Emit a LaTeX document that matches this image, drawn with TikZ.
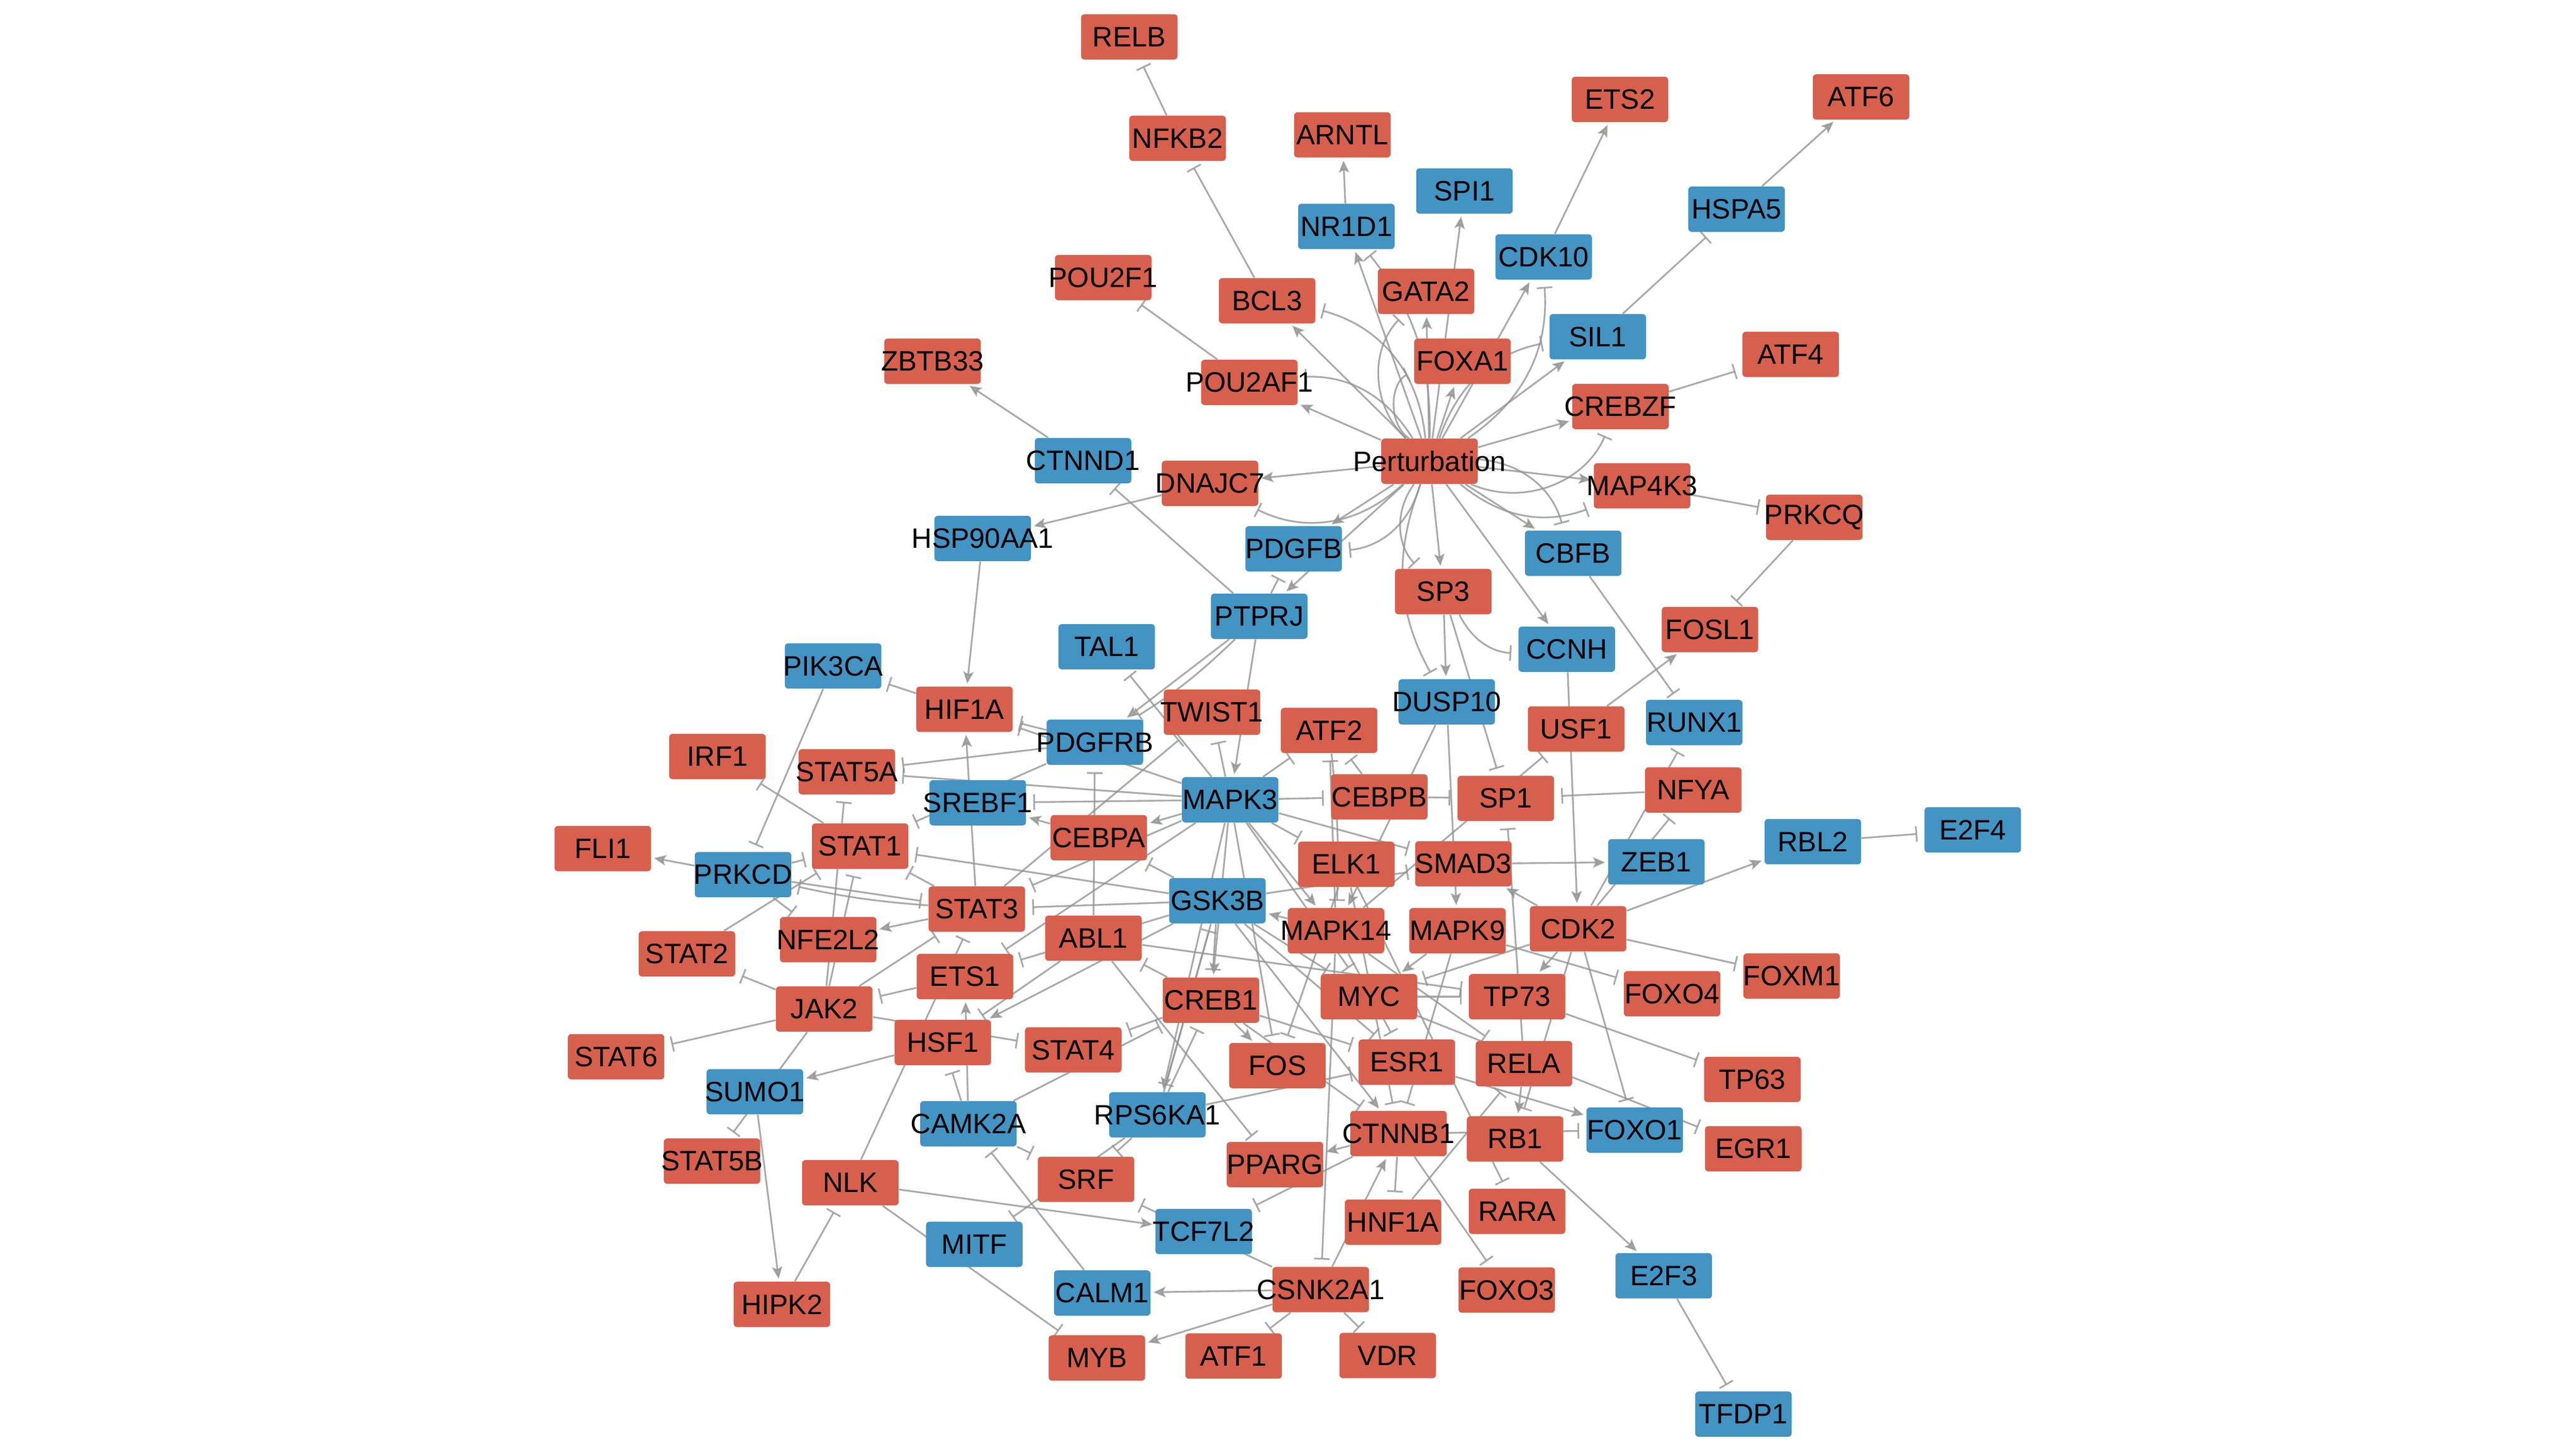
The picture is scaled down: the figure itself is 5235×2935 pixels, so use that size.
\documentclass[tikz,border=0pt]{standalone}
\usepackage{fontspec}
\setmainfont{Liberation Sans}
\usetikzlibrary{arrows.meta}
\definecolor{redc}{HTML}{D6604D}
\definecolor{bluec}{HTML}{4393C3}
\newcommand\genefont{\fontsize{16.2}{18}\selectfont}
\newcommand\gtxt[1]{\makebox[0pt]{#1}}
\pgfdeclarelayer{bgl}
\pgfdeclarelayer{edges}
\pgfsetlayers{bgl,edges,main}
\tikzset{
  gn/.style={rectangle, rounded corners=2pt, minimum width=1.96cm, minimum height=0.92cm, inner sep=0pt, font=\genefont, text=black},
  rd/.style={gn, fill=redc},
  bl/.style={gn, fill=bluec},
  edg/.style={line width=1pt, draw=black!42, opacity=0.8},
  act/.style={edg, -{Stealth[length=7pt,width=6pt,inset=1.5pt]}, shorten >=1.5pt},
  inh/.style={edg, -{Bar[width=9pt]}, shorten >=4pt}
}
\begin{document}
\begin{tikzpicture}[x=0.01cm,y=-0.01cm]
\useasboundingbox (0,0) rectangle (5235,2935);
\begin{pgfonlayer}{bgl}
\fill[white] (0,0) rectangle (5235,2935);
\end{pgfonlayer}
% nodes
\node[rd] (RELB) at (2295,75) {\gtxt{RELB}};
\node[rd] (NFKB2) at (2393,281) {\gtxt{NFKB2}};
\node[rd] (ARNTL) at (2728,274) {\gtxt{ARNTL}};
\node[rd] (ETS2) at (3292,202) {\gtxt{ETS2}};
\node[rd] (ATF6) at (3782,197) {\gtxt{ATF6}};
\node[bl] (SPI1) at (2976,388) {\gtxt{SPI1}};
\node[bl] (NR1D1) at (2736,460) {\gtxt{NR1D1}};
\node[bl] (HSPA5) at (3529,425) {\gtxt{HSPA5}};
\node[bl] (CDK10) at (3137,522) {\gtxt{CDK10}};
\node[rd] (POU2F1) at (2242,564) {\gtxt{POU2F1}};
\node[rd] (BCL3) at (2575,611) {\gtxt{BCL3}};
\node[rd] (GATA2) at (2898,592) {\gtxt{GATA2}};
\node[bl] (SIL1) at (3247,684) {\gtxt{SIL1}};
\node[rd] (ZBTB33) at (1895,734) {\gtxt{ZBTB33}};
\node[rd] (FOXA1) at (2972,734) {\gtxt{FOXA1}};
\node[rd] (ATF4) at (3639,720) {\gtxt{ATF4}};
\node[rd] (POU2AF1) at (2539,777) {\gtxt{POU2AF1}};
\node[rd] (CREBZF) at (3293,826) {\gtxt{CREBZF}};
\node[bl] (CTNND1) at (2201,936) {\gtxt{CTNND1}};
\node[rd] (P) at (2905,937) {\gtxt{Perturbation}};
\node[rd] (DNAJC7) at (2459,982) {\gtxt{DNAJC7}};
\node[rd] (MAP4K3) at (3337,987) {\gtxt{MAP4K3}};
\node[bl] (HSP90AA1) at (1997,1094) {\gtxt{HSP90AA1}};
\node[rd] (PRKCQ) at (3687,1051) {\gtxt{PRKCQ}};
\node[bl] (PDGFB) at (2629,1115) {\gtxt{PDGFB}};
\node[bl] (CBFB) at (3197,1124) {\gtxt{CBFB}};
\node[rd] (SP3) at (2933,1202) {\gtxt{SP3}};
\node[bl] (PTPRJ) at (2559,1252) {\gtxt{PTPRJ}};
\node[rd] (FOSL1) at (3475,1279) {\gtxt{FOSL1}};
\node[bl] (TAL1) at (2249,1314) {\gtxt{TAL1}};
\node[bl] (CCNH) at (3184,1319) {\gtxt{CCNH}};
\node[bl] (PIK3CA) at (1693,1353) {\gtxt{PIK3CA}};
\node[bl] (DUSP10) at (2940,1426) {\gtxt{DUSP10}};
\node[rd] (HIF1A) at (1960,1441) {\gtxt{HIF1A}};
\node[rd] (TWIST1) at (2463,1447) {\gtxt{TWIST1}};
\node[rd] (ATF2) at (2701,1484) {\gtxt{ATF2}};
\node[rd] (USF1) at (3203,1481) {\gtxt{USF1}};
\node[bl] (RUNX1) at (3443,1468) {\gtxt{RUNX1}};
\node[bl] (PDGFRB) at (2225,1508) {\gtxt{PDGFRB}};
\node[rd] (IRF1) at (1458,1537) {\gtxt{IRF1}};
\node[rd] (STAT5A) at (1721,1568) {\gtxt{STAT5A}};
\node[rd] (NFYA) at (3441,1605) {\gtxt{NFYA}};
\node[bl] (MAPK3) at (2500,1625) {\gtxt{MAPK3}};
\node[bl] (SREBF1) at (1987,1631) {\gtxt{SREBF1}};
\node[rd] (CEBPB) at (2803,1619) {\gtxt{CEBPB}};
\node[rd] (SP1) at (3060,1622) {\gtxt{SP1}};
\node[rd] (CEBPA) at (2233,1702) {\gtxt{CEBPA}};
\node[rd] (STAT1) at (1748,1719) {\gtxt{STAT1}};
\node[rd] (FLI1) at (1225,1724) {\gtxt{FLI1}};
\node[bl] (E2F4) at (4009,1686) {\gtxt{E2F4}};
\node[bl] (RBL2) at (3684,1710) {\gtxt{RBL2}};
\node[rd] (ELK1) at (2736,1756) {\gtxt{ELK1}};
\node[rd] (SMAD3) at (2974,1755) {\gtxt{SMAD3}};
\node[bl] (ZEB1) at (3366,1751) {\gtxt{ZEB1}};
\node[bl] (PRKCD) at (1510,1777) {\gtxt{PRKCD}};
\node[rd] (STAT3) at (1985,1847) {\gtxt{STAT3}};
\node[bl] (GSK3B) at (2474,1830) {\gtxt{GSK3B}};
\node[rd] (NFE2L2) at (1683,1909) {\gtxt{NFE2L2}};
\node[rd] (ABL1) at (2222,1906) {\gtxt{ABL1}};
\node[rd] (MAPK14) at (2715,1891) {\gtxt{MAPK14}};
\node[rd] (MAPK9) at (2962,1891) {\gtxt{MAPK9}};
\node[rd] (CDK2) at (3207,1887) {\gtxt{CDK2}};
\node[rd] (STAT2) at (1396,1938) {\gtxt{STAT2}};
\node[rd] (ETS1) at (1961,1984) {\gtxt{ETS1}};
\node[rd] (FOXM1) at (3641,1983) {\gtxt{FOXM1}};
\node[rd] (JAK2) at (1675,2050) {\gtxt{JAK2}};
\node[rd] (CREB1) at (2461,2032) {\gtxt{CREB1}};
\node[rd] (MYC) at (2782,2025) {\gtxt{MYC}};
\node[rd] (TP73) at (3083,2025) {\gtxt{TP73}};
\node[rd] (FOXO4) at (3398,2019) {\gtxt{FOXO4}};
\node[rd] (STAT6) at (1252,2147) {\gtxt{STAT6}};
\node[rd] (HSF1) at (1916,2118) {\gtxt{HSF1}};
\node[rd] (STAT4) at (2181,2133) {\gtxt{STAT4}};
\node[rd] (FOS) at (2596,2165) {\gtxt{FOS}};
\node[rd] (ESR1) at (2859,2158) {\gtxt{ESR1}};
\node[rd] (RELA) at (3097,2161) {\gtxt{RELA}};
\node[rd] (TP63) at (3561,2193) {\gtxt{TP63}};
\node[bl] (SUMO1) at (1534,2218) {\gtxt{SUMO1}};
\node[bl] (CAMK2A) at (1968,2283) {\gtxt{CAMK2A}};
\node[bl] (RPS6KA1) at (2352,2265) {\gtxt{RPS6KA1}};
\node[rd] (CTNNB1) at (2842,2303) {\gtxt{CTNNB1}};
\node[rd] (RB1) at (3079,2314) {\gtxt{RB1}};
\node[bl] (FOXO1) at (3322,2296) {\gtxt{FOXO1}};
\node[rd] (EGR1) at (3563,2334) {\gtxt{EGR1}};
\node[rd] (STAT5B) at (1447,2359) {\gtxt{STAT5B}};
\node[rd] (NLK) at (1728,2403) {\gtxt{NLK}};
\node[rd] (SRF) at (2207,2396) {\gtxt{SRF}};
\node[rd] (PPARG) at (2591,2366) {\gtxt{PPARG}};
\node[bl] (TCF7L2) at (2446,2502) {\gtxt{TCF7L2}};
\node[rd] (HNF1A) at (2831,2483) {\gtxt{HNF1A}};
\node[rd] (RARA) at (3083,2461) {\gtxt{RARA}};
\node[bl] (MITF) at (1980,2528) {\gtxt{MITF}};
\node[bl] (CALM1) at (2240,2627) {\gtxt{CALM1}};
\node[rd] (CSNK2A1) at (2684,2620) {\gtxt{CSNK2A1}};
\node[rd] (FOXO3) at (3062,2621) {\gtxt{FOXO3}};
\node[bl] (E2F3) at (3381,2592) {\gtxt{E2F3}};
\node[rd] (HIPK2) at (1589,2650) {\gtxt{HIPK2}};
\node[rd] (MYB) at (2229,2759) {\gtxt{MYB}};
\node[rd] (ATF1) at (2507,2755) {\gtxt{ATF1}};
\node[rd] (VDR) at (2820,2754) {\gtxt{VDR}};
\node[bl] (TFDP1) at (3543,2873) {\gtxt{TFDP1}};
% edges
\begin{pgfonlayer}{edges}
% Perturbation
\draw[act] (P) -- (POU2AF1);
\draw[inh] (P) to[bend right=30] (POU2AF1);
\draw[act] (P) -- (BCL3);
\draw[inh] (P) to[bend right=35] (BCL3);
\draw[act] (P) -- (NR1D1);
\draw[inh] (P) to[bend right=20] (NR1D1);
\draw[act] (P) -- (SPI1);
\draw[act] (P) -- (GATA2);
\draw[inh] (P) to[bend left=45] (GATA2);
\draw[act] (P) -- (FOXA1);
\draw[inh] (P) to[bend left=60] (FOXA1);
\draw[act] (P) -- (CDK10);
\draw[inh] (P) to[bend right=30] (CDK10);
\draw[act] (P) -- (SIL1);
\draw[inh] (P) to[bend left=30] (SIL1);
\draw[act] (P) -- (CREBZF);
\draw[inh] (P) to[bend right=45] (CREBZF);
\draw[act] (P) -- (MAP4K3);
\draw[inh] (P) to[bend right=30] (MAP4K3);
\draw[act] (P) -- (CBFB);
\draw[inh] (P) to[bend left=35] (CBFB);
\draw[act] (P) -- (CCNH);
\draw[act] (P) -- (SP3);
\draw[inh] (P) to[bend right=40] (SP3);
\draw[inh] (P) to[bend right=25] (DUSP10);
\draw[act] (P) -- (PDGFB);
\draw[inh] (P) to[bend left=35] (PDGFB);
\draw[act] (P) -- (PTPRJ);
\draw[act] (P) -- (DNAJC7);
\draw[inh] (P) to[bend left=35] (DNAJC7);
% top
\draw[inh] (NFKB2) -- (RELB);
\draw[inh] (BCL3) -- (NFKB2);
\draw[act] (NR1D1) -- (ARNTL);
\draw[act] (CDK10) -- (ETS2);
\draw[act] (HSPA5) -- (ATF6);
\draw[inh] (SIL1) -- (HSPA5);
\draw[inh] (POU2AF1) -- (POU2F1);
\draw[act] (CTNND1) -- (ZBTB33);
\draw[inh] (CREBZF) -- (ATF4);
\draw[inh] (MAP4K3) -- (PRKCQ);
\draw[inh] (PRKCQ) -- (FOSL1);
\draw[act] (USF1) -- (FOSL1);
\draw[inh] (CBFB) -- (RUNX1);
\draw[act] (DNAJC7) -- (HSP90AA1);
\draw[act] (HSP90AA1) -- (HIF1A);
\draw[inh] (PTPRJ) -- (CTNND1);
\draw[inh] (PTPRJ) -- (PDGFB);
\draw[act] (PTPRJ) -- (PDGFRB);
\draw[inh] (PTPRJ) to[bend left=6] (PDGFRB);
\draw[act] (PTPRJ) -- (MAPK3);
\draw[act] (SP3) -- (DUSP10);
\draw[inh] (SP3) -- (SP1);
\draw[inh] (SP3) to[bend right=30] (CCNH);
\draw[act] (CCNH) -- (CDK2);
\draw[inh] (MAPK3) -- (TAL1);
% left-center
\draw[inh] (HIF1A) -- (PIK3CA);
\draw[inh] (PIK3CA) -- (PRKCD);
\draw[inh] (PDGFRB) -- (HIF1A);
\draw[inh] (MAPK3) -- (HIF1A);
\draw[inh] (PDGFRB) -- (STAT5A);
\draw[inh] (MAPK3) -- (STAT5A);
\draw[inh] (MAPK3) -- (SREBF1);
\draw[act] (STAT3) -- (HIF1A);
\draw[inh] (PDGFRB) -- (STAT1);
\draw[act] (CEBPA) -- (SREBF1);
\draw[act] (MAPK3) -- (CEBPA);
\draw[inh] (ABL1) -- (PDGFRB);
\draw[inh] (STAT3) -- (TWIST1);
\draw[inh] (MAPK3) -- (TWIST1);
\draw[inh] (MAPK3) -- (ATF2);
\draw[inh] (MAPK3) -- (CEBPB);
\draw[inh] (CEBPB) -- (SP1);
\draw[inh] (STAT1) -- (IRF1);
\draw[inh] (JAK2) -- (STAT5A);
\draw[inh] (JAK2) -- (STAT1);
\draw[act] (PRKCD) -- (FLI1);
\draw[inh] (PRKCD) -- (STAT1);
\draw[inh] (STAT2) -- (STAT1);
\draw[inh] (PRKCD) -- (STAT3);
\draw[inh] (STAT3) to[bend left=4] (PRKCD);
\draw[inh] (PRKCD) -- (NFE2L2);
\draw[inh] (GSK3B) -- (STAT1);
\draw[inh] (STAT3) -- (STAT1);
\draw[act] (STAT3) -- (NFE2L2);
\draw[inh] (JAK2) -- (STAT2);
\draw[inh] (JAK2) -- (STAT6);
\draw[inh] (JAK2) -- (STAT5B);
\draw[act] (SUMO1) -- (HIPK2);
\draw[act] (HSF1) -- (SUMO1);
\draw[inh] (HIPK2) -- (NLK);
\draw[inh] (NLK) -- (STAT3);
\draw[inh] (JAK2) -- (STAT3);
\draw[inh] (ETS1) -- (JAK2);
\draw[inh] (JAK2) -- (STAT4);
\draw[act] (CAMK2A) -- (ETS1);
\draw[inh] (CAMK2A) -- (HSF1);
\draw[inh] (CAMK2A) -- (SRF);
\draw[inh] (CAMK2A) -- (CREB1);
\draw[inh] (CREB1) -- (STAT4);
\draw[inh] (NLK) -- (MYB);
\draw[act] (NLK) -- (TCF7L2);
\draw[inh] (RPS6KA1) -- (MITF);
\draw[inh] (RPS6KA1) -- (SRF);
\draw[inh] (CALM1) -- (CAMK2A);
\draw[act] (CSNK2A1) -- (CALM1);
\draw[act] (CSNK2A1) -- (MYB);
\draw[inh] (CSNK2A1) -- (ATF1);
\draw[inh] (CSNK2A1) -- (VDR);
\draw[inh] (CSNK2A1) -- (SRF);
\draw[inh] (CTNNB1) -- (TCF7L2);
\draw[act] (CTNNB1) -- (PPARG);
\draw[act] (GSK3B) -- (CTNNB1);
\draw[inh] (CREB1) -- (CTNNB1);
\draw[inh] (CTNNB1) -- (HNF1A);
\draw[inh] (CTNNB1) -- (FOXO3);
\draw[inh] (CTNNB1) -- (FOXO1);
\draw[inh] (HNF1A) -- (RELA);
\draw[act] (CSNK2A1) -- (CTNNB1);
\draw[inh] (MAPK14) -- (CSNK2A1);
\draw[act] (ESR1) -- (FOXO1);
\draw[inh] (MYC) -- (EGR1);
\draw[inh] (TP73) -- (TP63);
\draw[inh] (CDK2) -- (FOXO1);
\draw[act] (RELA) -- (RB1);
\draw[act] (RB1) -- (E2F3);
\draw[inh] (E2F3) -- (TFDP1);
\draw[inh] (ELK1) -- (RARA);
% hub
\draw[inh] (MAPK3) -- (ELK1);
\draw[inh] (MAPK3) -- (SMAD3);
\draw[inh] (GSK3B) -- (SMAD3);
\draw[act] (SMAD3) -- (ZEB1);
\draw[act] (CDK2) -- (SMAD3);
\draw[act] (DUSP10) -- (MAPK14);
\draw[act] (DUSP10) -- (MAPK9);
\draw[inh] (MAPK14) -- (USF1);
\draw[inh] (MAPK14) -- (ATF2);
\draw[inh] (ATF2) to[bend left=4] (MAPK14);
\draw[inh] (CEBPB) -- (ATF2);
\draw[inh] (RELA) -- (SP1);
\draw[inh] (NFYA) -- (SP1);
\draw[inh] (CDK2) -- (NFYA);
\draw[inh] (CDK2) -- (RUNX1);
\draw[act] (CDK2) -- (RBL2);
\draw[inh] (RBL2) -- (E2F4);
\draw[inh] (CDK2) -- (FOXM1);
\draw[inh] (MAPK9) -- (FOXO4);
\draw[inh] (CDK2) -- (MYC);
\draw[act] (CDK2) -- (TP73);
\draw[inh] (CDK2) -- (RB1);
\draw[act] (MAPK9) -- (MYC);
\draw[inh] (ABL1) -- (TP73);
\draw[inh] (ABL1) -- (PPARG);
\draw[inh] (CREB1) -- (ABL1);
\draw[inh] (GSK3B) -- (CREB1);
\draw[inh] (RPS6KA1) -- (GSK3B);
\draw[inh] (RPS6KA1) -- (CREB1);
\draw[inh] (GSK3B) -- (RPS6KA1);
\draw[act] (MAPK3) -- (RPS6KA1);
\draw[act] (MAPK3) -- (CREB1);
\draw[inh] (MAPK3) -- (ETS1);
\draw[act] (GSK3B) -- (HSF1);
\draw[inh] (ABL1) -- (HSF1);
\draw[inh] (GSK3B) -- (ETS1);
\draw[inh] (GSK3B) -- (STAT3);
\draw[inh] (MAPK3) -- (STAT3);
\draw[inh] (GSK3B) -- (CEBPA);
\draw[act] (MAPK14) -- (GSK3B);
\draw[act] (MAPK3) -- (MAPK14);
\draw[inh] (MAPK3) -- (FOS);
\draw[inh] (ELK1) -- (FOS);
\draw[act] (CREB1) -- (FOS);
\draw[inh] (CREB1) -- (ESR1);
\draw[inh] (RPS6KA1) -- (ESR1);
\draw[inh] (MAPK14) -- (ESR1);
\draw[inh] (GSK3B) -- (ESR1);
\draw[inh] (MAPK9) -- (CTNNB1);
\draw[inh] (GSK3B) -- (MYC);
\draw[inh] (MAPK3) -- (MYC);
\draw[inh] (MYC) -- (TP73);
\draw[inh] (MAPK14) -- (RELA);
\draw[inh] (ELK1) -- (CTNNB1);
\end{pgfonlayer}
\end{tikzpicture}
\end{document}
